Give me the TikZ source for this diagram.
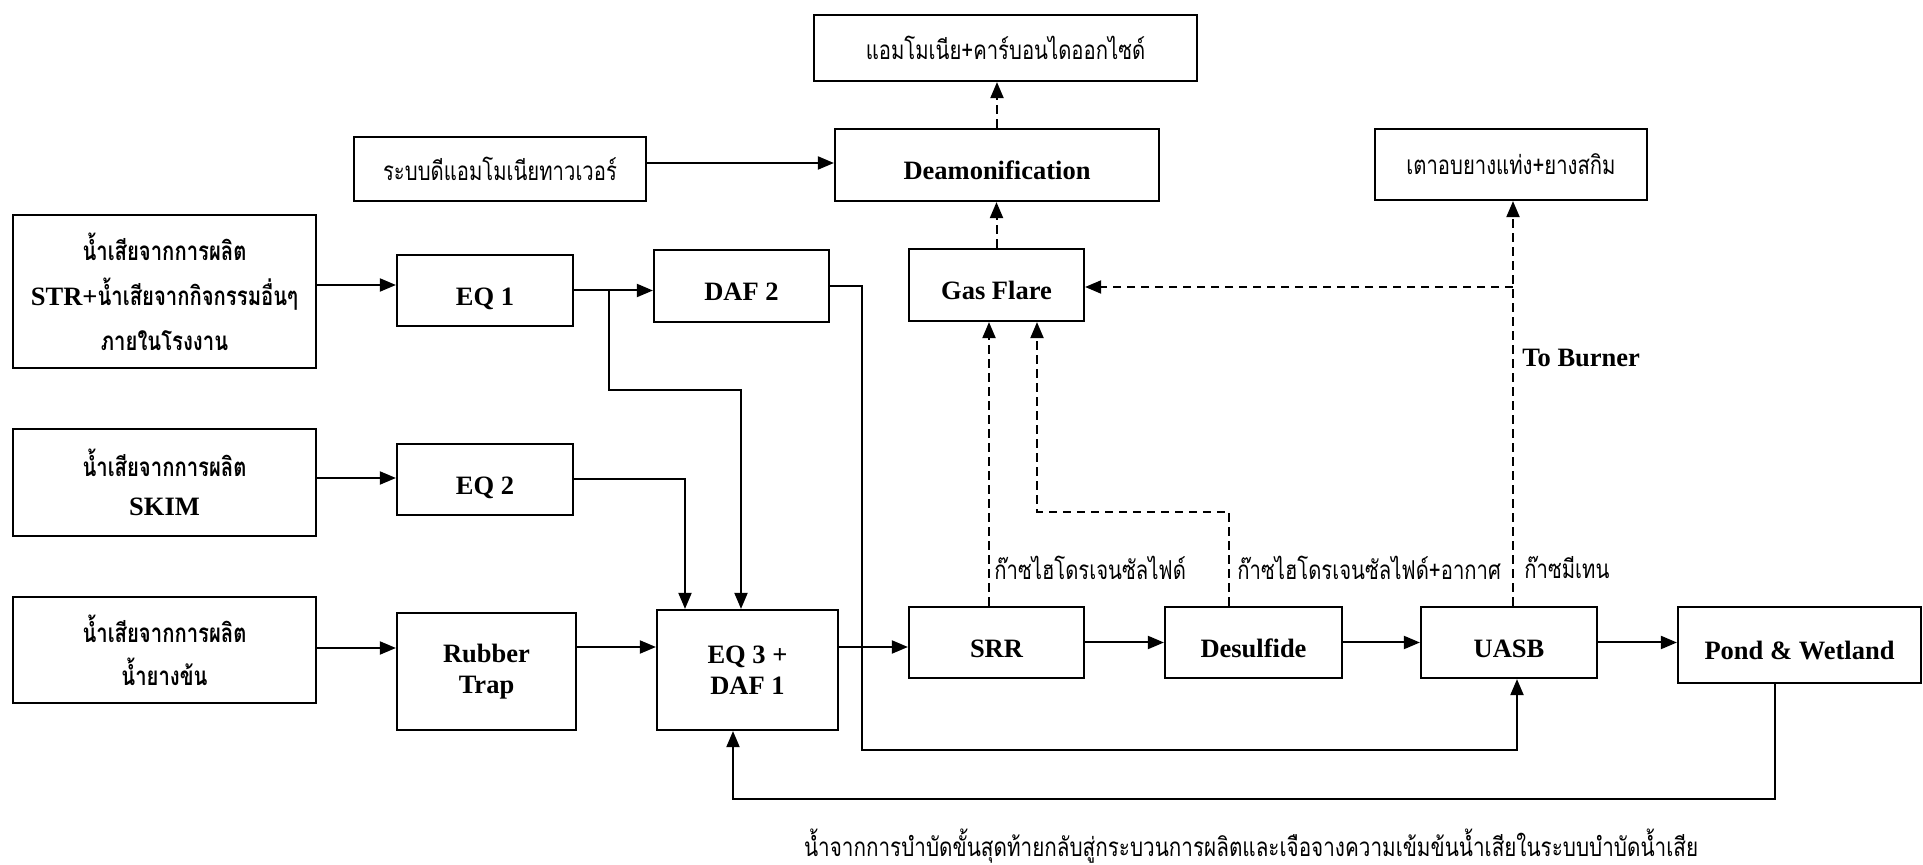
\documentclass[tikz,border=0pt]{standalone}
\usepackage{fontspec}
\setmainfont{Liberation Serif}
\newfontfamily\thai[Script=Thai,FakeStretch=0.78]{Loma}
\usetikzlibrary{arrows.meta,calc}

\newcommand\latinb{\rmfamily\fontsize{13.25}{15.5}\selectfont\bfseries}
\newcommand\thtxt{\thai\fontsize{13}{22.5}\selectfont}

\tikzset{
  box/.style={draw, line width=1.1pt, inner sep=0pt, align=center, font=\latinb},
  onebox/.style={box, text height=15pt, text depth=0pt},
  thbox/.style={box, font=\thtxt},
  srcbox/.style={box, font=\thtxt\bfseries},
  flow/.style={line width=1pt, -{Triangle[length=8pt,width=6.5pt]}},
  gas/.style={flow, dash pattern=on 4.2pt off 2.8pt},
  gaslabel/.style={font=\thtxt, anchor=west, inner sep=0pt},
}

\begin{document}
\begin{tikzpicture}[x=0.5pt,y=-0.5pt]
\fill[white] (0,0) rectangle (1923,865);
\useasboundingbox (0,0) rectangle (1923,865);

% upper row: ammonia stripping and burners
\node[thbox, minimum width=191.5pt, minimum height=33pt] (amm) at (1005.5,48) {แอมโมเนีย+คาร์บอนไดออกไซด์};
\node[thbox, minimum width=146pt, minimum height=32pt] (tower) at (500,169) {ระบบดีแอมโมเนียทาวเวอร์};
\node[onebox, minimum width=162pt, minimum height=36pt] (deam) at (997,165) {Deamonification};
\node[thbox, minimum width=136pt, minimum height=35.5pt] (oven) at (1511,164.5) {เตาอบยางแท่ง+ยางสกิม};
\node[onebox, minimum width=87.5pt, minimum height=36pt] (flare) at (996.5,285) {Gas Flare};

% wastewater sources
\node[srcbox, minimum width=151.5pt, minimum height=76.5pt] (in1) at (164.5,291.5)
  {น้ำเสียจากการผลิต\\{\latinb STR+}น้ำเสียจากกิจกรรมอื่นๆ\\ภายในโรงงาน};
\node[srcbox, minimum width=151.5pt, minimum height=53.5pt] (in2) at (164.5,482.5)
  {น้ำเสียจากการผลิต\\[-3pt]{\latinb SKIM}};
\node[srcbox, minimum width=151.5pt, minimum height=53pt] (in3) at (164.5,650)
  {น้ำเสียจากการผลิต\\[-1pt]น้ำยางข้น};

% pre-treatment
\node[onebox, minimum width=88pt, minimum height=35.5pt] (eq1) at (485,290.5) {EQ 1};
\node[onebox, minimum width=87.5pt, minimum height=36pt] (daf2) at (741.5,286) {DAF 2};
\node[onebox, minimum width=88pt, minimum height=35.5pt] (eq2) at (485,479.5) {EQ 2};
\node[box, minimum width=89.5pt, minimum height=58.5pt] (rubber) at (486.5,671.5) {Rubber\\Trap};
\node[box, minimum width=90.5pt, minimum height=60pt] (eq3) at (747.5,670) {EQ 3 +\\DAF 1};

% main treatment line
\node[onebox, minimum width=87.5pt, minimum height=35.5pt] (srr) at (996.5,642.5) {SRR};
\node[onebox, minimum width=88.5pt, minimum height=35.5pt] (desulf) at (1253.5,642.5) {Desulfide};
\node[onebox, minimum width=88pt, minimum height=35.5pt] (uasb) at (1509,642.5) {UASB};
\node[onebox, minimum width=121.5pt, minimum height=38pt] (pond) at (1799.5,645) {Pond \& Wetland};

% gas labels
\node[gaslabel] (lh2s) at (994,568) {ก๊าซไฮโดรเจนซัลไฟด์};
\node[gaslabel] (lh2sair) at (1237,568) {ก๊าซไฮโดรเจนซัลไฟด์+อากาศ};
\node[gaslabel] (lch4) at (1524,568) {ก๊าซมีเทน};
\node[font=\latinb, anchor=west, inner sep=0pt] (lburn) at (1522,358) {To Burner};
\node[font=\thtxt, inner sep=0pt, xscale=1.02] (note) at (1251,846)
  {น้ำจากการบำบัดขั้นสุดท้ายกลับสู่กระบวนการผลิตและเจือจางความเข้มข้นน้ำเสียในระบบบำบัดน้ำเสีย};

% junction points of the piping
\coordinate (br) at (609,290.5);
\coordinate (bypass) at (862,750);
\coordinate (ret) at (733,799);
\coordinate (dk) at (1037,512);
\coordinate (fj) at (1513,287);

% water flow
\draw[flow] ([yshift=3.25pt]in1.east) -- ([yshift=3.25pt]in1.east -| eq1.west);
\draw[flow] ([yshift=2.25pt]in2.east) -- ([yshift=2.25pt]in2.east -| eq2.west);
\draw[flow] ([yshift=1pt]in3.east) -- ([yshift=1pt]in3.east -| rubber.west);
\draw[flow] (eq1.east) -- (eq1.east -| daf2.west);
\draw[flow] (br) -- ++(0,100) -| ([xshift=-3.25pt]eq3.north);
\draw[flow] (eq2.east) -| ([xshift=-31.25pt]eq3.north);
\draw[flow] ([yshift=12.25pt]rubber.east) -- ([yshift=12.25pt]rubber.east -| eq3.west);
\draw[flow] ([yshift=11.5pt]eq3.east) -- ([yshift=11.5pt]eq3.east -| srr.west);
\draw[flow] (srr.east) -- (desulf.west);
\draw[flow] (desulf.east) -- (uasb.west);
\draw[flow] (uasb.east) -- (uasb.east -| pond.west);
\draw[flow] (daf2.east) -| (bypass) -| ([xshift=4pt]uasb.south);
\draw[flow] ([xshift=-12.25pt]pond.south) |- (ret) -- (ret |- eq3.south);
\draw[flow] ([yshift=3pt]tower.east) -- ([yshift=3pt]tower.east -| deam.west);

% gas flow
\draw[gas] (flare.north) -- (flare.north |- deam.south);
\draw[gas] (deam.north) -- (deam.north |- amm.south);
\draw[gas] ([xshift=-3.75pt]srr.north) -- ([xshift=-3.75pt]srr.north |- flare.south);
\draw[gas] ([xshift=-12.25pt]desulf.north) |- (dk) -- (dk |- flare.south);
\draw[gas] ([xshift=2pt]uasb.north) -- ([xshift=2pt]uasb.north |- oven.south);
\draw[gas] (fj) -- (fj -| flare.east);
\end{tikzpicture}
\end{document}
